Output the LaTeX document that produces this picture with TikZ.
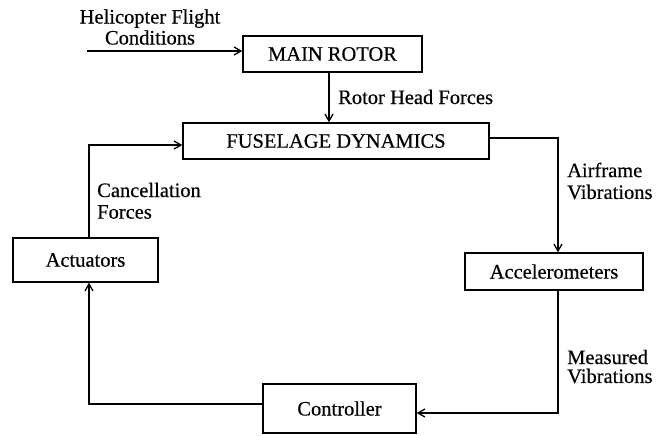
\documentclass[tikz,border=0pt]{standalone}
\usepackage{fontspec}
\setmainfont{Liberation Serif}
\newfontfamily\labfont{Liberation Serif}[FakeBold=0.4]
\usetikzlibrary{arrows.meta}
\begin{document}
\begin{tikzpicture}[x=1pt,y=-1pt,
  box/.style={draw, line width=1.3pt, inner sep=0pt, font=\labfont\fontsize{20.5}{22}\selectfont},
  lab/.style={inner sep=0pt, anchor=west, font=\labfont\fontsize{20.5}{22}\selectfont},
  conn/.style={line width=1.3pt},
  arr/.style={conn, -{Straight Barb[length=7pt,width=8pt,line width=1.3pt]}}]
\useasboundingbox (0,0) rectangle (656,436);
\fill[white] (0,0) rectangle (656,436);
% boxes
\node[box, minimum width=179pt, minimum height=36pt] (main) at (332.5,54) {MAIN ROTOR};
\node[box, minimum width=306pt, minimum height=36pt] (fus) at (336,141) {FUSELAGE DYNAMICS};
\node[box, minimum width=145pt, minimum height=44pt] (act) at (85.5,260) {Actuators};
\node[box, minimum width=178pt, minimum height=37pt] (acc) at (554,271.5) {Accelerometers};
\node[box, minimum width=153pt, minimum height=49pt] (ctrl) at (339.5,408.5) {Controller};
% labels
\node[inner sep=0pt, align=center, font=\labfont\fontsize{20.5}{21}\selectfont] (hfc) at (150,27) {Helicopter Flight\\Conditions};
\node[lab] (rhf) at (338,97) {Rotor Head Forces};
\node[lab] (af1) at (567,170) {Airframe};
\node[lab] (af2) at (567,192) {Vibrations};
\node[lab] (cf1) at (97,190) {Cancellation};
\node[lab] (cf2) at (97,212) {Forces};
\node[lab] (mv1) at (567,357) {Measured};
\node[lab] (mv2) at (567,376) {Vibrations};
% connectors
\coordinate (in) at (87,51);
\draw[arr] (in) -- (in -| main.west);
\draw[arr] ([xshift=-3.5pt]main.south) -- ([xshift=-3.5pt]main.south |- fus.north);
\draw[arr] ([yshift=3pt]fus.east) -| ([xshift=4pt]acc.north);
\draw[arr] ([xshift=4pt]acc.south) |- ([yshift=-4.5pt]ctrl.east);
\draw[arr] ([yshift=4.5pt]ctrl.west) -| ([xshift=3.5pt]act.south);
\draw[arr] ([xshift=3.5pt]act.north) |- ([yshift=-4pt]fus.west);
\end{tikzpicture}
\end{document}
